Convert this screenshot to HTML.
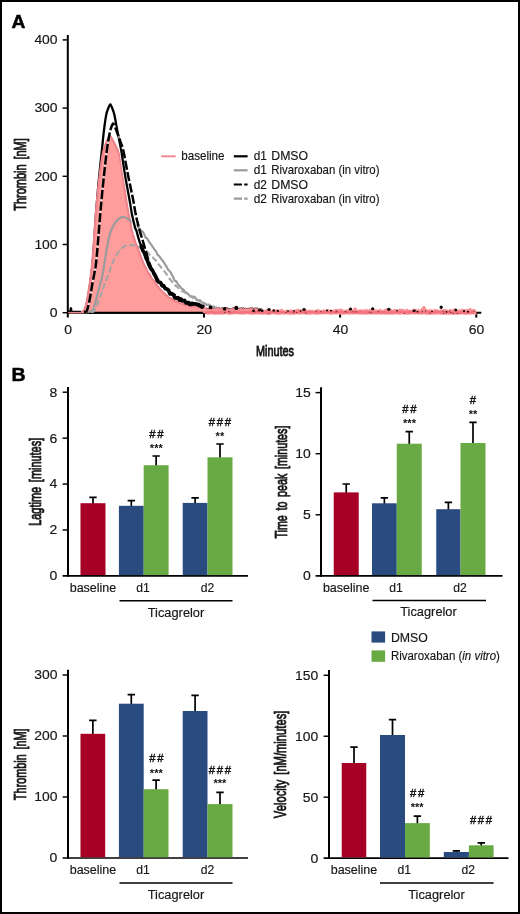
<!DOCTYPE html>
<html lang="en">
<head>
<meta charset="utf-8">
<title>Thrombin generation figure</title>
<style>
html,body{margin:0;padding:0;background:#fff;}
body{width:520px;height:914px;overflow:hidden;position:relative;font-family:"Liberation Sans",sans-serif;}
svg text{font-family:"Liberation Sans",sans-serif;}
</style>
</head>
<body>
<svg width="520" height="914" viewBox="0 0 520 914" style="display:block;position:absolute;left:0;top:0">
<rect x="0" y="0" width="520" height="914" fill="#fff"/>
<defs><filter id="soft" x="0" y="0" width="520" height="914" filterUnits="userSpaceOnUse"><feGaussianBlur stdDeviation="0.42"/></filter></defs>
<rect x="1" y="1" width="518" height="912" fill="none" stroke="#000" stroke-width="2"/>
<g filter="url(#soft)">
<g stroke="#000" stroke-width="2" fill="none" stroke-linecap="butt">
<path d="M67.80,35 V317.6"/>
<path d="M67.80,312.70 H481.3"/>
<path d="M203.96,312.70 V317.6"/>
<path d="M340.12,312.70 V317.6"/>
<path d="M476.28,312.70 V317.6"/>
</g>
<g stroke="#000" stroke-width="1.45" fill="none" stroke-linecap="butt">
<path d="M62.6,312.70 H67.80"/>
<path d="M62.6,244.50 H67.80"/>
<path d="M62.6,176.30 H67.80"/>
<path d="M62.6,108.10 H67.80"/>
<path d="M62.6,39.90 H67.80"/>
</g>
<path d="M68.00,311.50 L68.16,311.52 L68.38,311.58 L68.65,311.64 L68.94,311.70 L69.24,311.73 L69.52,311.72 L69.78,311.65 L70.00,311.50 L70.17,311.21 L70.32,310.78 L70.45,310.25 L70.56,309.70 L70.67,309.17 L70.77,308.73 L70.88,308.42 L71.00,308.30 L71.08,308.41 L71.09,308.71 L71.07,309.15 L71.06,309.67 L71.11,310.22 L71.26,310.74 L71.54,311.19 L72.00,311.50 L72.70,311.70 L73.63,311.83 L74.72,311.92 L75.89,311.96 L77.07,311.98 L78.20,311.99 L79.20,311.99 L80.00,312.00 L80.60,312.02 L81.08,312.05 L81.46,312.07 L81.77,312.08 L82.03,312.06 L82.27,312.01 L82.52,311.93 L82.80,311.80 L83.10,311.64 L83.38,311.47 L83.64,311.28 L83.90,311.04 L84.15,310.76 L84.40,310.42 L84.65,310.00 L84.90,309.50 L85.15,308.92 L85.41,308.28 L85.66,307.57 L85.91,306.79 L86.15,305.95 L86.40,305.04 L86.65,304.06 L86.90,303.00 L87.15,301.86 L87.40,300.64 L87.65,299.34 L87.90,297.97 L88.15,296.54 L88.40,295.07 L88.65,293.55 L88.90,292.00 L89.15,290.41 L89.40,288.76 L89.66,287.06 L89.91,285.31 L90.16,283.53 L90.41,281.71 L90.66,279.87 L90.90,278.00 L91.14,276.14 L91.37,274.28 L91.60,272.41 L91.83,270.50 L92.05,268.53 L92.27,266.47 L92.49,264.30 L92.70,262.00 L92.91,259.56 L93.11,256.99 L93.31,254.32 L93.51,251.56 L93.71,248.73 L93.90,245.85 L94.10,242.93 L94.30,240.00 L94.50,236.98 L94.70,233.84 L94.90,230.62 L95.10,227.38 L95.30,224.14 L95.50,220.97 L95.70,217.91 L95.90,215.00 L96.10,212.24 L96.30,209.58 L96.50,207.00 L96.71,204.50 L96.91,202.06 L97.11,199.67 L97.30,197.32 L97.50,195.00 L97.68,192.81 L97.85,190.80 L98.01,188.89 L98.17,187.00 L98.34,185.05 L98.53,182.95 L98.75,180.63 L99.00,178.00 L99.30,174.97 L99.65,171.59 L100.02,167.95 L100.41,164.19 L100.81,160.40 L101.20,156.70 L101.57,153.19 L101.90,150.00 L102.20,147.08 L102.48,144.32 L102.74,141.69 L102.99,139.19 L103.24,136.78 L103.49,134.46 L103.74,132.21 L104.00,130.00 L104.27,127.83 L104.55,125.71 L104.82,123.65 L105.10,121.67 L105.38,119.80 L105.65,118.06 L105.93,116.45 L106.20,115.00 L106.47,113.73 L106.75,112.62 L107.03,111.66 L107.31,110.83 L107.58,110.08 L107.84,109.41 L108.08,108.79 L108.30,108.20 L108.50,107.66 L108.67,107.22 L108.84,106.85 L108.98,106.54 L109.12,106.28 L109.25,106.05 L109.38,105.82 L109.50,105.60 L109.62,105.38 L109.72,105.17 L109.81,104.98 L109.90,104.82 L109.99,104.69 L110.07,104.59 L110.16,104.52 L110.25,104.50 L110.34,104.52 L110.43,104.59 L110.51,104.69" fill="none" stroke="#000" stroke-width="2.3" stroke-linejoin="round"/>
<path d="M206.00,308.16 L207.25,309.00 L208.50,308.92 L209.75,308.67 L211.00,308.25 L212.25,309.17 L213.50,309.19 L214.75,308.72 L216.00,308.71 L217.25,308.28 L218.50,307.91 L219.75,308.49 L221.00,308.84 L222.25,308.01 L223.50,309.17 L224.75,308.27 L226.00,308.27 L227.25,307.97 L228.50,309.50 L229.75,309.08 L231.00,309.30 L232.25,308.89 L233.50,307.95 L234.75,308.43 L236.00,308.70 L237.25,308.09 L238.50,309.42 L239.75,308.49 L241.00,308.15 L242.25,309.21 L243.50,308.10 L244.75,309.38 L246.00,308.63 L247.25,308.78 L248.50,308.45 L249.75,308.68 L251.00,308.20 L252.25,307.96 L253.50,309.29 L254.75,308.28 L256.00,309.15 L257.25,308.23 L258.50,309.45 L259.75,309.33 L261.00,309.11 L262.25,310.62" fill="none" stroke="#000" stroke-width="1.6" stroke-linejoin="round"/>
<path d="M68.00,312.30 L68.99,312.30 L70.38,312.31 L72.04,312.32 L73.84,312.33 L75.67,312.34 L77.39,312.34 L78.87,312.32 L80.00,312.30 L80.77,312.27 L81.30,312.25 L81.66,312.23 L81.88,312.19 L82.02,312.14 L82.13,312.06 L82.28,311.95 L82.50,311.80 L82.77,311.63 L83.04,311.45 L83.29,311.25 L83.53,311.03 L83.77,310.75 L84.01,310.41 L84.25,310.00 L84.50,309.50 L84.75,308.92 L85.00,308.28 L85.25,307.57 L85.50,306.79 L85.75,305.95 L86.00,305.04 L86.25,304.06 L86.50,303.00 L86.75,301.86 L87.00,300.64 L87.25,299.34 L87.50,297.97 L87.75,296.54 L88.00,295.07 L88.25,293.55 L88.50,292.00 L88.75,290.41 L89.00,288.76 L89.26,287.06 L89.51,285.31 L89.76,283.53 L90.01,281.71 L90.26,279.87 L90.50,278.00 L90.74,276.14 L90.97,274.28 L91.19,272.41 L91.42,270.50 L91.64,268.53 L91.86,266.47 L92.08,264.30 L92.30,262.00 L92.52,259.56 L92.73,256.99 L92.94,254.32 L93.16,251.56 L93.37,248.73 L93.58,245.85 L93.79,242.93 L94.00,240.00 L94.21,236.98 L94.42,233.84 L94.63,230.62 L94.84,227.38 L95.06,224.14 L95.27,220.97 L95.48,217.91 L95.70,215.00 L95.92,212.26 L96.13,209.65 L96.35,207.13 L96.57,204.69 L96.79,202.28 L97.02,199.88 L97.26,197.47 L97.50,195.00 L97.75,192.50 L98.01,190.00 L98.26,187.50 L98.53,185.00 L98.81,182.50 L99.09,180.00 L99.39,177.50 L99.70,175.00 L100.03,172.44 L100.38,169.78 L100.74,167.08 L101.11,164.41 L101.48,161.80 L101.86,159.33 L102.23,157.05 L102.60,155.00 L102.97,153.20 L103.33,151.59 L103.71,150.15 L104.07,148.84 L104.44,147.65 L104.80,146.55 L105.16,145.51 L105.50,144.50 L105.84,143.55 L106.18,142.70 L106.52,141.93 L106.84,141.24 L107.16,140.61 L107.46,140.03 L107.74,139.50 L108.00,139.00 L108.23,138.55 L108.45,138.16 L108.64,137.83 L108.82,137.55 L108.98,137.30 L109.13,137.09 L109.27,136.89 L109.40,136.70 L109.51,136.53 L109.60,136.38 L109.68,136.26 L109.74,136.16 L109.80,136.09 L109.86,136.04 L109.93,136.01 L110.00,136.00 L110.08,136.01 L110.15,136.04 L110.23,136.09 L110.31,136.16 L110.39,136.26 L110.48,136.38 L110.58,136.53 L110.70,136.70 L110.83,136.90 L110.95,137.11 L111.09,137.35 L111.24,137.61 L111.40,137.91 L111.58,138.23 L111.78,138.60 L112.00,139.00 L112.25,139.44 L112.53,139.92 L112.83,140.44 L113.14,140.99 L113.47,141.57 L113.81,142.18 L114.16,142.83 L114.50,143.50 L114.85,144.21 L115.23,144.95 L115.61,145.73 L116.00,146.53 L116.39,147.36 L116.77,148.22 L117.15,149.10 L117.50,150.00 L117.83,150.85 L118.15,151.64 L118.45,152.41 L118.75,153.22 L119.05,154.13 L119.35,155.19 L119.67,156.46 L120.00,158.00 L121.30,165.56 L122.60,174.25 L123.90,183.40 L125.20,192.93 L126.50,202.01 L127.80,209.82 L129.10,216.14 L130.40,222.84 L131.70,230.05 L133.00,234.74 L134.30,238.85 L135.60,243.19 L136.90,245.87 L138.20,249.58 L139.50,252.80 L140.80,256.76 L142.10,259.66 L143.40,263.16 L144.70,266.14 L146.00,268.33 L147.30,271.00 L148.60,273.24 L149.90,274.78 L151.20,277.61 L152.50,279.35 L153.80,280.85 L155.10,282.30 L156.40,284.93 L157.70,286.14 L159.00,287.97 L160.30,289.62 L161.60,290.82 L162.90,292.35 L164.20,293.03 L165.50,294.68 L166.80,295.45 L168.10,297.07 L169.40,298.02 L170.70,298.10 L172.00,298.98 L173.30,299.83 L174.60,301.33 L175.90,301.36 L177.20,302.13 L178.50,302.28 L179.80,302.98 L181.10,303.28 L182.40,303.66 L183.70,304.31 L185.00,304.69 L186.30,305.39 L187.60,305.45 L188.90,305.99 L190.20,306.16 L191.50,306.53 L192.80,306.39 L194.10,306.02 L195.40,306.98 L196.70,307.29 L198.00,307.42 L199.30,307.23 L200.60,307.56 L201.90,307.16 L203.20,307.98 L204.50,307.83 L205.80,307.64 L206.00,312.90 L68,312.90 Z" fill="#ff9c9c" stroke="none"/>
<path d="M80.77,312.27 L81.30,312.25 L81.66,312.23 L81.88,312.19 L82.02,312.14 L82.13,312.06 L82.28,311.95 L82.50,311.80 L82.77,311.63 L83.04,311.45 L83.29,311.25 L83.53,311.03 L83.77,310.75 L84.01,310.41 L84.25,310.00 L84.50,309.50 L84.75,308.92 L85.00,308.28 L85.25,307.57 L85.50,306.79 L85.75,305.95 L86.00,305.04 L86.25,304.06 L86.50,303.00 L86.75,301.86 L87.00,300.64 L87.25,299.34 L87.50,297.97 L87.75,296.54 L88.00,295.07 L88.25,293.55 L88.50,292.00 L88.75,290.41 L89.00,288.76 L89.26,287.06 L89.51,285.31 L89.76,283.53 L90.01,281.71 L90.26,279.87 L90.50,278.00 L90.74,276.14 L90.97,274.28 L91.19,272.41 L91.42,270.50 L91.64,268.53 L91.86,266.47 L92.08,264.30 L92.30,262.00 L92.52,259.56 L92.73,256.99 L92.94,254.32 L93.16,251.56 L93.37,248.73 L93.58,245.85 L93.79,242.93 L94.00,240.00 L94.21,236.98 L94.42,233.84 L94.63,230.62 L94.84,227.38 L95.06,224.14 L95.27,220.97 L95.48,217.91 L95.70,215.00 L95.92,212.26 L96.13,209.65 L96.35,207.13 L96.57,204.69 L96.79,202.28 L97.02,199.88 L97.26,197.47 L97.50,195.00 L97.75,192.50 L98.01,190.00 L98.26,187.50 L98.53,185.00 L98.81,182.50 L99.09,180.00 L99.39,177.50 L99.70,175.00 L100.03,172.44 L100.38,169.78 L100.74,167.08 L101.11,164.41 L101.48,161.80 L101.86,159.33 L102.23,157.05 L102.60,155.00 L102.97,153.20 L103.33,151.59 L103.71,150.15 L104.07,148.84 L104.44,147.65 L104.80,146.55 L105.16,145.51 L105.50,144.50 L105.84,143.55 L106.18,142.70 L106.52,141.93 L106.84,141.24 L107.16,140.61 L107.46,140.03 L107.74,139.50 L108.00,139.00 L108.23,138.55 L108.45,138.16 L108.64,137.83 L108.82,137.55 L108.98,137.30 L109.13,137.09 L109.27,136.89 L109.40,136.70 L109.51,136.53 L109.60,136.38 L109.68,136.26 L109.74,136.16 L109.80,136.09 L109.86,136.04 L109.93,136.01 L110.00,136.00 L110.08,136.01 L110.15,136.04 L110.23,136.09 L110.31,136.16 L110.39,136.26 L110.48,136.38 L110.58,136.53 L110.70,136.70 L110.83,136.90 L110.95,137.11 L111.09,137.35 L111.24,137.61 L111.40,137.91 L111.58,138.23 L111.78,138.60 L112.00,139.00 L112.25,139.44 L112.53,139.92 L112.83,140.44 L113.14,140.99 L113.47,141.57 L113.81,142.18 L114.16,142.83 L114.50,143.50 L114.85,144.21 L115.23,144.95 L115.61,145.73 L116.00,146.53 L116.39,147.36 L116.77,148.22 L117.15,149.10 L117.50,150.00 L117.83,150.85 L118.15,151.64 L118.45,152.41 L118.75,153.22 L119.05,154.13 L119.35,155.19 L119.67,156.46 L120.00,158.00 L121.30,165.56 L122.60,174.25 L123.90,183.40 L125.20,192.93 L126.50,202.01 L127.80,209.82 L129.10,216.14 L130.40,222.84 L131.70,230.05 L133.00,234.74 L134.30,238.85 L135.60,243.19 L136.90,245.87 L138.20,249.58 L139.50,252.80 L140.80,256.76 L142.10,259.66 L143.40,263.16 L144.70,266.14 L146.00,268.33 L147.30,271.00 L148.60,273.24 L149.90,274.78 L151.20,277.61 L152.50,279.35 L153.80,280.85 L155.10,282.30 L156.40,284.93 L157.70,286.14 L159.00,287.97 L160.30,289.62 L161.60,290.82 L162.90,292.35 L164.20,293.03 L165.50,294.68 L166.80,295.45 L168.10,297.07 L169.40,298.02 L170.70,298.10 L172.00,298.98 L173.30,299.83 L174.60,301.33 L175.90,301.36 L177.20,302.13 L178.50,302.28 L179.80,302.98 L181.10,303.28 L182.40,303.66 L183.70,304.31 L185.00,304.69 L186.30,305.39 L187.60,305.45 L188.90,305.99 L190.20,306.16 L191.50,306.53 L192.80,306.39 L194.10,306.02 L195.40,306.98 L196.70,307.29 L198.00,307.42 L199.30,307.23 L200.60,307.56 L201.90,307.16 L203.20,307.98 L204.50,307.83 L205.80,307.64" fill="none" stroke="#ee838b" stroke-width="2.2" stroke-linejoin="round"/>
<path d="M69.5,312.6 H81" fill="none" stroke="#ee838b" stroke-width="1.5" opacity="0.85"/>
<path d="M87.5,312.70 H203" stroke="#000" stroke-width="1.9" fill="none"/>
<path d="M88.00,312.00 L88.32,311.92 L88.74,311.85 L89.25,311.77 L89.81,311.66 L90.40,311.49 L90.98,311.26 L91.52,310.94 L92.00,310.50 L92.42,309.96 L92.82,309.36 L93.20,308.67 L93.56,307.91 L93.92,307.06 L94.27,306.13 L94.63,305.11 L95.00,304.00 L95.37,302.77 L95.74,301.41 L96.10,299.95 L96.46,298.41 L96.83,296.81 L97.21,295.20 L97.60,293.59 L98.00,292.00 L98.43,290.41 L98.89,288.77 L99.37,287.11 L99.86,285.44 L100.33,283.77 L100.79,282.13 L101.22,280.54 L101.60,279.00 L101.93,277.58 L102.21,276.27 L102.46,275.04 L102.69,273.81 L102.92,272.55 L103.15,271.20 L103.41,269.70 L103.70,268.00 L104.02,266.06 L104.37,263.90 L104.73,261.59 L105.11,259.19 L105.48,256.76 L105.86,254.38 L106.24,252.11 L106.60,250.00 L106.95,248.02 L107.31,246.08 L107.66,244.19 L108.01,242.38 L108.35,240.63 L108.70,238.98 L109.05,237.44 L109.40,236.00 L109.75,234.69 L110.09,233.51 L110.44,232.44 L110.78,231.46 L111.13,230.54 L111.48,229.67 L111.84,228.83 L112.20,228.00 L112.57,227.20 L112.94,226.45 L113.31,225.76 L113.69,225.10 L114.08,224.47 L114.48,223.87 L114.88,223.28 L115.30,222.70 L115.73,222.12 L116.18,221.55 L116.64,221.00 L117.11,220.47 L117.58,219.97 L118.05,219.51 L118.53,219.08 L119.00,218.70 L119.47,218.36 L119.93,218.04 L120.40,217.76 L120.87,217.52 L121.34,217.32 L121.82,217.16 L122.31,217.05 L122.80,217.00 L123.30,217.00 L123.80,217.06 L124.31,217.16 L124.82,217.31 L125.35,217.50 L125.88,217.74 L126.43,218.00 L127.00,218.30 L127.56,218.61 L128.10,218.94 L128.64,219.30 L129.20,219.70 L129.80,220.16 L130.45,220.68 L132.15,222.13 L133.85,223.59 L135.55,224.97 L137.25,227.00 L138.95,227.82 L140.65,230.45 L142.35,231.34 L144.05,233.93 L145.75,237.82 L147.45,238.72 L149.15,242.06 L150.85,244.13 L152.55,246.57 L154.25,249.17 L155.95,251.12 L157.65,255.03 L159.35,256.11 L161.05,258.80 L162.75,260.67 L164.45,263.47 L166.15,266.03 L167.85,269.37 L169.55,270.98 L171.25,273.42 L172.95,276.68 L174.65,280.85 L176.35,281.34 L178.05,284.57 L179.75,286.04 L181.45,288.42 L183.15,289.43 L184.85,291.65 L186.55,292.65 L188.25,294.21 L189.95,295.85 L191.65,296.30 L193.35,296.49 L195.05,297.35 L196.75,300.08 L198.45,300.07 L200.15,300.35 L201.85,302.69 L203.55,302.77 L205.25,303.87 L206.95,304.97 L208.65,304.55 L210.35,305.44 L212.05,307.18 L213.75,306.31 L215.45,308.13 L217.15,307.33" fill="none" stroke="#9b9b9b" stroke-width="2.2" stroke-linejoin="round"/>
<path d="M91.00,312.00 L91.29,311.95 L91.66,311.94 L92.11,311.94 L92.61,311.91 L93.14,311.79 L93.69,311.54 L94.23,311.13 L94.75,310.50 L95.25,309.64 L95.76,308.59 L96.27,307.38 L96.80,306.03 L97.33,304.59 L97.87,303.08 L98.43,301.54 L99.00,300.00 L99.60,298.40 L100.22,296.68 L100.86,294.87 L101.51,293.03 L102.16,291.18 L102.80,289.37 L103.41,287.63 L104.00,286.00 L104.55,284.50 L105.07,283.09 L105.57,281.74 L106.06,280.44 L106.54,279.14 L107.04,277.82 L107.56,276.45 L108.10,275.00 L108.68,273.44 L109.29,271.77 L109.92,270.05 L110.56,268.31 L111.19,266.60 L111.82,264.95 L112.43,263.40 L113.00,262.00 L113.54,260.74 L114.06,259.58 L114.57,258.50 L115.06,257.50 L115.54,256.56 L116.02,255.67 L116.51,254.82 L117.00,254.00 L117.50,253.22 L118.00,252.49 L118.50,251.82 L119.00,251.19 L119.50,250.60 L120.00,250.04 L120.50,249.51 L121.00,249.00 L121.50,248.52 L122.01,248.06 L122.51,247.64 L123.02,247.25 L123.52,246.89 L124.02,246.56 L124.51,246.27 L125.00,246.00 L125.47,245.77 L125.92,245.57 L126.36,245.41 L126.80,245.28 L127.24,245.18 L127.71,245.10 L128.21,245.04 L128.75,245.00 L129.34,244.98 L129.96,244.99 L130.62,245.02 L131.30,245.08 L131.98,245.15 L132.67,245.25 L133.35,245.37 L134.00,245.50 L134.63,245.65 L135.24,245.83 L135.85,246.02 L136.45,246.23 L137.95,246.84 L139.45,247.51 L140.95,248.21 L142.45,248.93 L143.95,249.61 L145.45,251.12 L146.95,251.44 L148.45,253.19 L149.95,255.00 L151.45,255.44 L152.95,257.57 L154.45,259.34 L155.95,260.39 L157.45,262.61 L158.95,264.90 L160.45,266.52 L161.95,268.80 L163.45,270.07 L164.95,272.12 L166.45,273.94 L167.95,276.38 L169.45,278.82 L170.95,280.30 L172.45,282.39 L173.95,283.70 L175.45,285.77 L176.95,286.49 L178.45,288.08 L179.95,289.77 L181.45,290.94 L182.95,291.57 L184.45,292.13 L185.95,293.29 L187.45,294.18 L188.95,295.22 L190.45,296.77 L191.95,296.91 L193.45,298.57 L194.95,299.36 L196.45,299.16 L197.95,300.32 L199.45,301.22 L200.95,301.43 L202.45,302.68 L203.95,304.01 L205.45,303.78 L206.95,305.04 L208.45,305.11 L209.95,306.27 L211.45,307.25" fill="none" stroke="#a3a3a3" stroke-width="2.0" stroke-dasharray="6.2 2.8" stroke-linejoin="round"/>
<path d="M206.00,307.86 L207.25,308.70 L208.50,308.62 L209.75,308.37 L211.00,307.95 L212.25,308.87 L213.50,308.89 L214.75,308.42 L216.00,308.41 L217.25,307.98 L218.50,307.61 L219.75,308.19 L221.00,308.54 L222.25,307.71 L223.50,308.87 L224.75,307.97 L226.00,307.97 L227.25,307.67 L228.50,309.20 L229.75,308.78 L231.00,309.00 L232.25,308.59 L233.50,307.65 L234.75,308.13 L236.00,308.40 L237.25,307.79 L238.50,309.12 L239.75,308.19 L241.00,307.85 L242.25,308.91 L243.50,307.80 L244.75,309.08 L246.00,308.33 L247.25,308.48 L248.50,308.15 L249.75,308.38 L251.00,307.90 L252.25,307.66 L253.50,308.99 L254.75,307.98 L256.00,308.85 L257.25,307.93 L258.50,309.15 L259.75,309.03 L261.00,308.81 L262.25,310.32 L263.50,310.03 L264.75,310.27 L266.00,309.30 L267.25,309.86 L268.50,310.42 L269.75,309.42 L271.00,310.58 L272.25,310.52 L273.50,309.76 L274.75,309.68 L276.00,309.82 L277.25,309.72 L278.50,310.69 L279.75,309.72 L281.00,309.14 L282.25,309.25 L283.50,310.25 L284.75,310.69 L286.00,309.89 L287.25,309.89 L288.50,309.98 L289.75,310.30 L291.00,309.46 L292.25,310.07 L293.50,309.99 L294.75,310.10 L296.00,309.39 L297.25,309.37 L298.50,308.95 L299.75,309.38 L301.00,309.65 L302.25,310.06 L303.50,309.59 L304.75,309.27 L306.00,309.21 L307.25,310.40 L308.50,310.34 L309.75,309.70 L311.00,310.19 L312.25,310.18 L313.50,310.54 L314.75,310.63 L316.00,309.75 L317.25,309.58 L318.50,309.15 L319.75,310.04 L321.00,310.51 L322.25,309.89 L323.50,309.70 L324.75,309.50 L326.00,310.50 L327.25,309.36 L328.50,309.21 L329.75,310.39 L331.00,310.34 L332.25,309.87 L333.50,310.44 L334.75,309.18 L336.00,309.11 L337.25,309.16 L338.50,309.37 L339.75,308.97 L341.00,308.81 L342.25,309.24 L343.50,310.14 L344.75,310.27 L346.00,309.89 L347.25,309.47 L348.50,309.10 L349.75,310.23 L351.00,309.54 L352.25,309.87 L353.50,308.75 L354.75,307.56 L356.00,307.90 L357.25,309.97 L358.50,310.11 L359.75,309.66 L361.00,309.38 L362.25,309.63 L363.50,310.06 L364.75,309.19 L366.00,309.55 L367.25,309.14 L368.50,309.93 L369.75,308.72 L371.00,309.80 L372.25,310.23 L373.50,308.74 L374.75,309.65 L376.00,309.73 L377.25,310.06 L378.50,309.63 L379.75,309.11 L381.00,309.35 L382.25,310.23 L383.50,310.15 L384.75,308.91 L386.00,308.85 L387.25,308.85 L388.50,308.74 L389.75,309.41 L391.00,308.93 L392.25,310.09 L393.50,309.75 L394.75,308.90 L396.00,309.56 L397.25,309.22 L398.50,309.49 L399.75,309.05 L401.00,308.97 L402.25,308.99 L403.50,309.30 L404.75,309.84 L406.00,309.58 L407.25,308.77 L408.50,309.84 L409.75,310.10 L411.00,309.94 L412.25,309.97 L413.50,308.71 L414.75,309.44 L416.00,308.80 L417.25,309.92 L418.50,308.98 L419.75,309.84 L421.00,309.10 L422.25,307.48 L423.50,305.90 L424.75,306.25 L426.00,309.32 L427.25,309.20 L428.50,310.14 L429.75,309.17 L431.00,309.50 L432.25,309.58 L433.50,310.22 L434.75,308.86 L436.00,309.66 L437.25,309.51 L438.50,309.88 L439.75,310.25 L441.00,309.20 L442.25,309.82 L443.50,309.54 L444.75,309.60 L446.00,308.80 L447.25,310.00 L448.50,310.26 L449.75,309.27 L451.00,309.21 L452.25,310.29 L453.50,308.87 L454.75,308.82 L456.00,308.82 L457.25,310.00 L458.50,309.92 L459.75,309.42 L461.00,309.69 L462.25,308.73 L463.50,309.73 L464.75,309.41 L466.00,309.53 L467.25,309.32 L468.50,309.34 L469.75,308.07 L471.00,308.78 L472.25,309.39 L473.50,309.10 L474.75,309.83 L476.00,310.01 L476.30,314.46 L474.30,314.27 L472.30,314.12 L470.30,314.22 L468.30,314.29 L466.30,314.39 L464.30,314.62 L462.30,314.01 L460.30,314.29 L458.30,314.29 L456.30,314.45 L454.30,314.57 L452.30,314.50 L450.30,314.39 L448.30,314.48 L446.30,314.42 L444.30,314.55 L442.30,314.44 L440.30,314.43 L438.30,314.12 L436.30,314.59 L434.30,314.22 L432.30,314.38 L430.30,314.53 L428.30,314.62 L426.30,314.64 L424.30,313.95 L422.30,314.17 L420.30,314.17 L418.30,314.22 L416.30,314.05 L414.30,314.34 L412.30,314.01 L410.30,314.16 L408.30,314.61 L406.30,314.47 L404.30,314.27 L402.30,314.03 L400.30,314.62 L398.30,314.44 L396.30,314.09 L394.30,314.18 L392.30,314.40 L390.30,314.43 L388.30,314.13 L386.30,314.62 L384.30,314.18 L382.30,314.13 L380.30,314.54 L378.30,314.06 L376.30,314.43 L374.30,314.09 L372.30,314.37 L370.30,314.14 L368.30,314.22 L366.30,314.61 L364.30,314.28 L362.30,314.26 L360.30,314.38 L358.30,314.15 L356.30,314.07 L354.30,314.22 L352.30,314.14 L350.30,314.08 L348.30,314.62 L346.30,313.97 L344.30,314.52 L342.30,314.60 L340.30,314.44 L338.30,313.96 L336.30,314.30 L334.30,313.98 L332.30,314.38 L330.30,314.44 L328.30,314.12 L326.30,313.96 L324.30,314.33 L322.30,314.02 L320.30,314.17 L318.30,314.27 L316.30,314.58 L314.30,314.21 L312.30,314.04 L310.30,314.50 L308.30,314.53 L306.30,314.32 L304.30,313.98 L302.30,314.08 L300.30,314.23 L298.30,314.34 L296.30,314.11 L294.30,314.51 L292.30,314.54 L290.30,314.60 L288.30,314.57 L286.30,313.96 L284.30,314.36 L282.30,314.01 L280.30,314.58 L278.30,314.47 L276.30,314.48 L274.30,314.08 L272.30,313.99 L270.30,314.52 L268.30,314.37 L266.30,314.38 L264.30,314.28 L262.30,314.51 L260.30,314.19 L258.30,314.14 L256.30,314.20 L254.30,314.16 L252.30,314.39 L250.30,314.57 L248.30,314.00 L246.30,314.00 L244.30,314.31 L242.30,314.42 L240.30,314.08 L238.30,314.14 L236.30,313.99 L234.30,313.98 L232.30,314.30 L230.30,314.43 L228.30,314.41 L226.30,314.06 L224.30,314.02 L222.30,314.60 L220.30,314.33 L218.30,314.24 L216.30,314.43 L214.30,314.46 L212.30,314.32 L210.30,314.00 L208.30,314.53 L206.30,314.10 Z" fill="#f98d92" stroke="#f98d92" stroke-width="0.5" stroke-linejoin="round"/>
<path d="M204.00,312.35 L206.50,312.39 L209.00,312.52 L211.50,312.14 L214.00,312.41 L216.50,312.57 L219.00,312.59 L221.50,312.08 L224.00,312.41 L226.50,312.38 L229.00,312.30 L231.50,312.63 L234.00,312.32 L236.50,312.26 L239.00,312.61 L241.50,312.39 L244.00,312.16 L246.50,312.17 L249.00,312.30 L251.50,311.99 L254.00,312.38 L256.50,312.47 L259.00,312.25 L261.50,312.54 L264.00,312.60 L266.50,312.34 L269.00,312.43 L271.50,312.03 L274.00,311.99 L276.50,312.64 L279.00,312.15 L281.50,312.10 L284.00,312.58 L286.50,312.47 L289.00,312.04 L291.50,312.18 L294.00,312.12 L296.50,312.14 L299.00,311.95 L301.50,312.32 L304.00,312.16 L306.50,312.23 L309.00,312.08 L311.50,312.03 L314.00,311.97 L316.50,312.56 L319.00,312.47 L321.50,312.34 L324.00,312.04 L326.50,312.05 L329.00,312.03 L331.50,312.17 L334.00,311.99 L336.50,312.14 L339.00,312.09 L341.50,312.08 L344.00,312.41 L346.50,312.27 L349.00,312.28 L351.50,312.20 L354.00,312.33 L356.50,312.50 L359.00,312.17 L361.50,312.00 L364.00,312.29 L366.50,312.22 L369.00,312.50 L371.50,312.03 L374.00,312.56 L376.50,311.96 L379.00,312.33 L381.50,312.26 L384.00,312.17 L386.50,312.57 L389.00,312.44 L391.50,312.06 L394.00,312.30 L396.50,312.38 L399.00,311.97 L401.50,312.01 L404.00,312.37 L406.50,312.46 L409.00,312.27 L411.50,312.25 L414.00,312.30 L416.50,312.13 L419.00,312.56 L421.50,312.62 L424.00,312.29 L426.50,311.96 L429.00,312.23 L431.50,312.51 L434.00,312.18 L436.50,312.02 L439.00,312.08 L441.50,312.45 L444.00,312.39 L446.50,312.15 L449.00,312.39 L451.50,312.48 L454.00,312.63 L456.50,312.53 L459.00,312.25 L461.50,312.52 L464.00,312.60 L466.50,312.56 L469.00,312.48 L471.50,312.36 L474.00,312.31" fill="none" stroke="#ef6f7a" stroke-width="2.3" stroke-linejoin="round" opacity="0.9"/>
<ellipse cx="210.5" cy="307.4" rx="1.9" ry="1.9" fill="#0a0000"/>
<ellipse cx="224.6" cy="308.8" rx="1.9" ry="1.9" fill="#0a0000"/>
<ellipse cx="236.3" cy="307.9" rx="2.0" ry="2.2" fill="#0a0000"/>
<ellipse cx="253.5" cy="310.8" rx="1.4" ry="1.3" fill="#0a0000"/>
<ellipse cx="259.6" cy="310.1" rx="1.6" ry="1.4" fill="#0a0000"/>
<ellipse cx="262.2" cy="310.8" rx="1.3" ry="1.3" fill="#0a0000"/>
<ellipse cx="269.0" cy="309.5" rx="1.7" ry="1.5" fill="#0a0000"/>
<ellipse cx="273.7" cy="310.4" rx="1.3" ry="1.2" fill="#0a0000"/>
<ellipse cx="277.8" cy="310.9" rx="1.2" ry="1.1" fill="#0a0000"/>
<ellipse cx="288.0" cy="311.1" rx="0.9" ry="0.8" fill="#0a0000"/>
<ellipse cx="294.0" cy="310.9" rx="0.9" ry="0.8" fill="#0a0000"/>
<ellipse cx="300.6" cy="311.1" rx="0.9" ry="0.8" fill="#0a0000"/>
<ellipse cx="304.0" cy="309.6" rx="1.7" ry="1.5" fill="#0a0000"/>
<ellipse cx="327.0" cy="310.4" rx="1.1" ry="0.9" fill="#0a0000"/>
<ellipse cx="331.0" cy="310.6" rx="1.1" ry="0.9" fill="#0a0000"/>
<ellipse cx="350.5" cy="309.1" rx="1.6" ry="1.5" fill="#0a0000"/>
<ellipse cx="372.7" cy="308.8" rx="1.7" ry="1.5" fill="#0a0000"/>
<ellipse cx="388.8" cy="309.2" rx="1.7" ry="1.5" fill="#0a0000"/>
<ellipse cx="397.0" cy="310.8" rx="0.9" ry="0.8" fill="#0a0000"/>
<ellipse cx="414.2" cy="310.8" rx="1.6" ry="1.3" fill="#0a0000"/>
<ellipse cx="441.2" cy="307.2" rx="1.6" ry="1.7" fill="#0a0000"/>
<ellipse cx="455.8" cy="310.1" rx="1.5" ry="1.4" fill="#0a0000"/>
<ellipse cx="464.0" cy="311.0" rx="1.1" ry="0.9" fill="#0a0000"/>
<ellipse cx="468.0" cy="311.7" rx="1.1" ry="0.9" fill="#0a0000"/>
<ellipse cx="417.5" cy="311.8" rx="1.1" ry="0.8" fill="#0a0000"/>
<ellipse cx="432.0" cy="311.5" rx="0.9" ry="0.8" fill="#0a0000"/>
<ellipse cx="446.5" cy="311.9" rx="0.9" ry="0.8" fill="#0a0000"/>
<rect x="273.8" y="310.5" width="1.2" height="1.1" fill="#5a1418" opacity="0.75"/>
<rect x="315.8" y="310.7" width="1.2" height="1.1" fill="#5a1418" opacity="0.75"/>
<rect x="229.4" y="311.5" width="1.2" height="1.1" fill="#5a1418" opacity="0.75"/>
<rect x="452.5" y="312.8" width="1.2" height="1.1" fill="#5a1418" opacity="0.75"/>
<rect x="412.5" y="310.9" width="1.2" height="1.1" fill="#5a1418" opacity="0.75"/>
<rect x="352.6" y="311.1" width="1.2" height="1.1" fill="#5a1418" opacity="0.75"/>
<rect x="257.2" y="310.5" width="1.2" height="1.1" fill="#5a1418" opacity="0.75"/>
<rect x="268.2" y="313.2" width="1.2" height="1.1" fill="#5a1418" opacity="0.75"/>
<rect x="429.2" y="312.8" width="1.2" height="1.1" fill="#5a1418" opacity="0.75"/>
<rect x="421.7" y="310.8" width="1.2" height="1.1" fill="#5a1418" opacity="0.75"/>
<rect x="293.2" y="312.2" width="1.2" height="1.1" fill="#5a1418" opacity="0.75"/>
<rect x="403.8" y="312.9" width="1.2" height="1.1" fill="#5a1418" opacity="0.75"/>
<rect x="442.6" y="310.5" width="1.2" height="1.1" fill="#5a1418" opacity="0.75"/>
<rect x="370.7" y="312.3" width="1.2" height="1.1" fill="#5a1418" opacity="0.75"/>
<rect x="344.6" y="310.8" width="1.2" height="1.1" fill="#5a1418" opacity="0.75"/>
<rect x="336.1" y="310.5" width="1.2" height="1.1" fill="#5a1418" opacity="0.75"/>
<rect x="456.9" y="313.0" width="1.2" height="1.1" fill="#5a1418" opacity="0.75"/>
<rect x="355.5" y="311.2" width="1.2" height="1.1" fill="#5a1418" opacity="0.75"/>
<rect x="450.1" y="312.0" width="1.2" height="1.1" fill="#5a1418" opacity="0.75"/>
<rect x="443.2" y="312.9" width="1.2" height="1.1" fill="#5a1418" opacity="0.75"/>
<rect x="345.2" y="311.5" width="1.2" height="1.1" fill="#5a1418" opacity="0.75"/>
<rect x="368.9" y="311.6" width="1.2" height="1.1" fill="#5a1418" opacity="0.75"/>
<rect x="254.3" y="311.2" width="1.2" height="1.1" fill="#5a1418" opacity="0.75"/>
<rect x="424.9" y="310.3" width="1.2" height="1.1" fill="#5a1418" opacity="0.75"/>
<rect x="224.1" y="312.2" width="1.2" height="1.1" fill="#5a1418" opacity="0.75"/>
<rect x="285.5" y="311.9" width="1.2" height="1.1" fill="#5a1418" opacity="0.75"/>
<rect x="335.5" y="311.3" width="1.2" height="1.1" fill="#5a1418" opacity="0.75"/>
<rect x="473.3" y="310.8" width="1.2" height="1.1" fill="#5a1418" opacity="0.75"/>
<rect x="320.2" y="310.8" width="1.2" height="1.1" fill="#5a1418" opacity="0.75"/>
<rect x="377.8" y="311.1" width="1.2" height="1.1" fill="#5a1418" opacity="0.75"/>
<rect x="305.2" y="312.6" width="1.2" height="1.1" fill="#5a1418" opacity="0.75"/>
<rect x="296.0" y="312.0" width="1.2" height="1.1" fill="#5a1418" opacity="0.75"/>
<rect x="448.9" y="310.5" width="1.2" height="1.1" fill="#5a1418" opacity="0.75"/>
<rect x="228.1" y="310.9" width="1.2" height="1.1" fill="#5a1418" opacity="0.75"/>
<path d="M112.67,109.44 L112.93,110.13 L113.21,110.89 L113.50,111.74 L113.80,112.70 L114.10,113.78 L114.40,115.00 L114.69,116.35 L114.98,117.81 L115.27,119.37 L115.57,121.05 L115.88,122.85 L116.22,124.77 L116.59,126.82 L117.00,129.00 L117.46,131.35 L117.97,133.89 L118.51,136.58 L119.08,139.38 L119.66,142.25 L120.23,145.17 L120.78,148.10 L121.30,151.00 L121.79,153.90 L122.25,156.84 L123.85,167.67 L125.45,177.57 L127.05,186.38 L128.65,195.05 L130.25,204.17 L131.85,214.11 L133.45,221.01 L135.05,227.84 L136.65,231.33 L138.25,237.34 L139.85,242.82" fill="none" stroke="#fff" stroke-width="3.8" stroke-linejoin="round" opacity="0.9"/>
<path d="M110.25,104.50 L110.34,104.52 L110.43,104.59 L110.51,104.69 L110.60,104.82 L110.69,104.98 L110.78,105.17 L110.88,105.38 L111.00,105.60 L111.12,105.82 L111.24,106.05 L111.37,106.28 L111.51,106.54 L111.66,106.85 L111.82,107.22 L112.00,107.66 L112.20,108.20 L112.42,108.80 L112.67,109.44 L112.93,110.13 L113.21,110.89 L113.50,111.74 L113.80,112.70 L114.10,113.78 L114.40,115.00 L114.69,116.35 L114.98,117.81 L115.27,119.37 L115.57,121.05 L115.88,122.85 L116.22,124.77 L116.59,126.82 L117.00,129.00 L117.46,131.35 L117.97,133.89 L118.51,136.58 L119.08,139.38 L119.66,142.25 L120.23,145.17 L120.78,148.10 L121.30,151.00 L121.79,153.90 L122.25,156.84 L123.85,167.67 L125.45,177.57 L127.05,186.38 L128.65,195.05 L130.25,204.17 L131.85,214.11 L133.45,221.01 L135.05,227.84 L136.65,231.33 L138.25,237.34 L139.85,242.82 L141.45,245.92" fill="none" stroke="#000" stroke-width="2.3" stroke-linejoin="round"/>
<path d="M141.25,246.22 L142.85,250.72 L144.45,252.77 L146.05,257.90 L147.65,261.28 L149.25,265.54 L150.85,268.79 L152.45,270.30 L154.05,273.71 L155.65,276.52 L157.25,280.50 L158.85,282.18 L160.45,282.45 L162.05,285.81 L163.65,285.77 L165.25,288.70 L166.85,289.06 L168.45,290.28 L170.05,293.98 L171.65,293.55 L173.25,294.70 L174.85,297.70 L176.45,298.33 L178.05,297.67 L179.65,300.20 L181.25,299.85 L182.85,300.93 L184.45,300.38 L186.05,302.94 L187.65,302.87 L189.25,304.13 L190.85,304.43 L192.45,303.36 L194.05,303.99 L195.65,303.94 L197.25,304.36 L198.85,304.65 L200.45,305.75 L202.05,307.01" fill="none" stroke="#000" stroke-width="3.7" stroke-linejoin="round" stroke-linecap="round"/>
<path d="M84.00,312.00 L84.21,311.96 L84.48,311.94 L84.82,311.92 L85.18,311.88 L85.56,311.79 L85.94,311.62 L86.29,311.37 L86.60,311.00 L86.87,310.52 L87.12,309.95 L87.36,309.29 L87.59,308.56 L87.81,307.76 L88.03,306.90 L88.26,305.98 L88.50,305.00 L88.75,303.96 L88.99,302.83 L89.24,301.63 L89.49,300.38 L89.75,299.07 L90.00,297.73 L90.25,296.37 L90.50,295.00 L90.75,293.59 L91.00,292.12 L91.25,290.60 L91.49,289.06 L91.74,287.51 L91.99,285.98 L92.25,284.47 L92.50,283.00 L92.76,281.57 L93.03,280.16 L93.30,278.76 L93.58,277.38 L93.84,276.01 L94.11,274.66 L94.36,273.32 L94.60,272.00 L94.82,270.80 L95.02,269.76 L95.21,268.79 L95.40,267.81 L95.59,266.73 L95.78,265.46 L95.98,263.91 L96.20,262.00 L96.44,259.70 L96.69,257.08 L96.94,254.20 L97.21,251.12 L97.48,247.91 L97.75,244.61 L98.02,241.29 L98.30,238.00 L98.57,234.71 L98.85,231.33 L99.12,227.88 L99.40,224.38 L99.68,220.82 L99.98,217.23 L100.28,213.62 L100.60,210.00 L100.93,206.35 L101.27,202.64 L101.62,198.90 L101.98,195.12 L102.35,191.34 L102.73,187.55 L103.11,183.76 L103.50,180.00 L103.91,176.15 L104.33,172.17 L104.77,168.13 L105.22,164.12 L105.66,160.22 L106.09,156.52 L106.51,153.08 L106.90,150.00 L107.27,147.27 L107.62,144.80 L107.96,142.58 L108.29,140.56 L108.61,138.73 L108.92,137.04 L109.21,135.47 L109.50,134.00 L109.78,132.66 L110.04,131.51 L110.30,130.52 L110.54,129.66 L110.78,128.91 L111.00,128.23 L111.21,127.60 L111.40,127.00 L111.58,126.45 L111.74,126.00 L111.89,125.62 L112.03,125.31 L112.16,125.05 L112.28,124.82 L112.39,124.61 L112.50,124.40 L112.60,124.20 L112.68,124.04 L112.76,123.90 L112.83,123.79 L112.89,123.70 L112.95,123.65 L113.02,123.61 L113.10,123.60 L113.18,123.61 L113.26,123.65 L113.33,123.70 L113.41,123.79 L113.50,123.90 L113.59,124.04 L113.69,124.20 L113.80,124.40 L113.92,124.61 L114.03,124.83 L114.16,125.07 L114.29,125.34 L114.43,125.66 L114.60,126.03 L114.78,126.48 L115.00,127.00 L115.25,127.61 L115.52,128.30 L115.82,129.06 L116.14,129.88 L116.47,130.74 L116.81,131.64 L117.15,132.57 L117.50,133.50 L117.85,134.46 L118.22,135.47 L118.59,136.52 L118.98,137.59 L119.36,138.69 L119.75,139.79 L120.13,140.90 L120.50,142.00 L120.86,143.00 L121.19,143.86 L121.52,144.68 L121.85,145.53 L122.19,146.50 L122.56,147.68 L122.96,149.15 L123.40,151.00 L123.89,153.28 L124.42,155.92 L125.82,163.42 L127.22,170.96" fill="none" stroke="#fff" stroke-width="1.8" stroke-linejoin="round" opacity="0.6"/>
<path d="M84.00,312.00 L84.21,311.96 L84.48,311.94 L84.82,311.92 L85.18,311.88 L85.56,311.79 L85.94,311.62 L86.29,311.37 L86.60,311.00 L86.87,310.52 L87.12,309.95 L87.36,309.29 L87.59,308.56 L87.81,307.76 L88.03,306.90 L88.26,305.98 L88.50,305.00 L88.75,303.96 L88.99,302.83 L89.24,301.63 L89.49,300.38 L89.75,299.07 L90.00,297.73 L90.25,296.37 L90.50,295.00 L90.75,293.59 L91.00,292.12 L91.25,290.60 L91.49,289.06 L91.74,287.51 L91.99,285.98 L92.25,284.47 L92.50,283.00 L92.76,281.57 L93.03,280.16 L93.30,278.76 L93.58,277.38 L93.84,276.01 L94.11,274.66 L94.36,273.32 L94.60,272.00 L94.82,270.80 L95.02,269.76 L95.21,268.79 L95.40,267.81 L95.59,266.73 L95.78,265.46 L95.98,263.91 L96.20,262.00 L96.44,259.70 L96.69,257.08 L96.94,254.20 L97.21,251.12 L97.48,247.91 L97.75,244.61 L98.02,241.29 L98.30,238.00 L98.57,234.71 L98.85,231.33 L99.12,227.88 L99.40,224.38 L99.68,220.82 L99.98,217.23 L100.28,213.62 L100.60,210.00 L100.93,206.35 L101.27,202.64 L101.62,198.90 L101.98,195.12 L102.35,191.34 L102.73,187.55 L103.11,183.76 L103.50,180.00 L103.91,176.15 L104.33,172.17 L104.77,168.13 L105.22,164.12 L105.66,160.22 L106.09,156.52 L106.51,153.08 L106.90,150.00 L107.27,147.27 L107.62,144.80 L107.96,142.58 L108.29,140.56 L108.61,138.73 L108.92,137.04 L109.21,135.47 L109.50,134.00 L109.78,132.66 L110.04,131.51 L110.30,130.52 L110.54,129.66 L110.78,128.91 L111.00,128.23 L111.21,127.60 L111.40,127.00 L111.58,126.45 L111.74,126.00 L111.89,125.62 L112.03,125.31 L112.16,125.05 L112.28,124.82 L112.39,124.61 L112.50,124.40 L112.60,124.20 L112.68,124.04 L112.76,123.90 L112.83,123.79 L112.89,123.70 L112.95,123.65 L113.02,123.61 L113.10,123.60 L113.18,123.61 L113.26,123.65 L113.33,123.70 L113.41,123.79 L113.50,123.90 L113.59,124.04 L113.69,124.20 L113.80,124.40 L113.92,124.61 L114.03,124.83 L114.16,125.07 L114.29,125.34 L114.43,125.66 L114.60,126.03 L114.78,126.48 L115.00,127.00 L115.25,127.61 L115.52,128.30 L115.82,129.06 L116.14,129.88 L116.47,130.74 L116.81,131.64 L117.15,132.57 L117.50,133.50 L117.85,134.46 L118.22,135.47 L118.59,136.52 L118.98,137.59 L119.36,138.69 L119.75,139.79 L120.13,140.90 L120.50,142.00 L120.86,143.00 L121.19,143.86 L121.52,144.68 L121.85,145.53 L122.19,146.50 L122.56,147.68 L122.96,149.15 L123.40,151.00 L123.89,153.28 L124.42,155.92 L125.82,163.42 L127.22,170.96 L128.62,178.03 L130.02,184.72 L131.42,191.32 L132.82,198.08 L134.22,205.77 L135.62,214.09 L137.02,220.27 L138.42,225.81 L139.82,231.06 L141.22,235.75 L142.62,240.25 L144.02,245.19 L145.42,250.06 L146.82,254.44 L148.22,260.04 L149.62,263.55 L151.02,267.37 L152.42,269.62 L153.82,273.03 L155.22,274.60 L156.62,277.76 L158.02,279.63 L159.42,280.88 L160.82,282.74 L162.22,284.51 L163.62,285.09 L165.02,287.20 L166.42,289.11 L167.82,289.54 L169.22,291.86 L170.62,292.91 L172.02,294.36 L173.42,294.49 L174.82,295.01 L176.22,297.15 L177.62,297.97 L179.02,298.08 L180.42,298.17 L181.82,299.03 L183.22,300.46 L184.62,300.46 L186.02,302.22 L187.42,302.09 L188.82,301.88 L190.22,303.15 L191.62,303.04 L193.02,304.48 L194.42,304.84 L195.82,304.53 L197.22,305.18 L198.62,305.70 L200.02,306.31 L201.42,307.03 L202.82,305.73 L204.22,306.74 L205.62,307.57" fill="none" stroke="#000" stroke-width="2.5" stroke-dasharray="9.2 2.4" stroke-linejoin="round"/>
<g font-family="'Liberation Sans', sans-serif">
<text x="11.50" y="27.80" font-size="18.40" font-weight="bold" textLength="13.9" lengthAdjust="spacingAndGlyphs" fill="#000" stroke="#000" stroke-width="0.5">A</text>
<text x="11.40" y="380.70" font-size="18.60" font-weight="bold" textLength="14.1" lengthAdjust="spacingAndGlyphs" fill="#000" stroke="#000" stroke-width="0.5">B</text>
<text x="57.60" y="317.00" font-size="12.60" text-anchor="end" textLength="7.8" lengthAdjust="spacingAndGlyphs" fill="#151515" stroke="#151515" stroke-width="0.16" stroke-linejoin="round">0</text>
<text x="57.60" y="248.80" font-size="12.60" text-anchor="end" textLength="23.2" lengthAdjust="spacingAndGlyphs" fill="#151515" stroke="#151515" stroke-width="0.16" stroke-linejoin="round">100</text>
<text x="57.60" y="180.60" font-size="12.60" text-anchor="end" textLength="23.2" lengthAdjust="spacingAndGlyphs" fill="#151515" stroke="#151515" stroke-width="0.16" stroke-linejoin="round">200</text>
<text x="57.60" y="112.40" font-size="12.60" text-anchor="end" textLength="23.2" lengthAdjust="spacingAndGlyphs" fill="#151515" stroke="#151515" stroke-width="0.16" stroke-linejoin="round">300</text>
<text x="57.60" y="44.20" font-size="12.60" text-anchor="end" textLength="23.2" lengthAdjust="spacingAndGlyphs" fill="#151515" stroke="#151515" stroke-width="0.16" stroke-linejoin="round">400</text>
<text x="68.10" y="334.30" font-size="12.60" text-anchor="middle" textLength="7.8" lengthAdjust="spacingAndGlyphs" fill="#151515" stroke="#151515" stroke-width="0.16" stroke-linejoin="round">0</text>
<text x="204.26" y="334.30" font-size="12.60" text-anchor="middle" textLength="15.5" lengthAdjust="spacingAndGlyphs" fill="#151515" stroke="#151515" stroke-width="0.16" stroke-linejoin="round">20</text>
<text x="340.42" y="334.30" font-size="12.60" text-anchor="middle" textLength="15.5" lengthAdjust="spacingAndGlyphs" fill="#151515" stroke="#151515" stroke-width="0.16" stroke-linejoin="round">40</text>
<text x="476.58" y="334.30" font-size="12.60" text-anchor="middle" textLength="15.5" lengthAdjust="spacingAndGlyphs" fill="#151515" stroke="#151515" stroke-width="0.16" stroke-linejoin="round">60</text>
<text transform="translate(25.80,174.50) rotate(-90)" x="-36.20" y="0" font-size="16.00" word-spacing="2.5" textLength="72.40" lengthAdjust="spacingAndGlyphs" stroke="#151515" stroke-width="0.85" stroke-linejoin="round" fill="#151515">Thrombin [nM]</text>
<text transform="translate(275.00,356.30)" x="-19.00" y="0" font-size="15.50" word-spacing="2.5" textLength="38.00" lengthAdjust="spacingAndGlyphs" stroke="#151515" stroke-width="0.85" stroke-linejoin="round" fill="#151515">Minutes</text>
<path d="M161.2,156.3 H175.6" stroke="#f08a92" stroke-width="2" fill="none"/>
<text x="181.20" y="160.30" font-size="12.20" textLength="43.4" lengthAdjust="spacingAndGlyphs" fill="#151515" stroke="#151515" stroke-width="0.16" stroke-linejoin="round">baseline</text>
<path d="M233.8,156.3 H247.6" stroke="#000" stroke-width="2.2" fill="none"/>
<path d="M233.8,170.3 H247.6" stroke="#9b9b9b" stroke-width="2.2" fill="none"/>
<path d="M233.8,184.5 H247.6" stroke="#000" stroke-width="2.2" fill="none" stroke-dasharray="8.2 2.2 3.4 10"/>
<path d="M233.8,198.7 H247.6" stroke="#9b9b9b" stroke-width="2.2" fill="none" stroke-dasharray="8.2 2.2 3.4 10"/>
<text x="253.70" y="160.40" font-size="12.20" textLength="13.2" lengthAdjust="spacingAndGlyphs" fill="#151515" stroke="#151515" stroke-width="0.16" stroke-linejoin="round">d1</text>
<text x="271.30" y="160.40" font-size="12.20" textLength="36.8" lengthAdjust="spacingAndGlyphs" fill="#151515" stroke="#151515" stroke-width="0.16" stroke-linejoin="round">DMSO</text>
<text x="253.70" y="174.40" font-size="12.20" textLength="13.2" lengthAdjust="spacingAndGlyphs" fill="#151515" stroke="#151515" stroke-width="0.16" stroke-linejoin="round">d1</text>
<text x="271.30" y="174.40" font-size="12.20" textLength="108.2" lengthAdjust="spacingAndGlyphs" fill="#151515" stroke="#151515" stroke-width="0.16" stroke-linejoin="round">Rivaroxaban (in vitro)</text>
<text x="253.70" y="188.60" font-size="12.20" textLength="13.2" lengthAdjust="spacingAndGlyphs" fill="#151515" stroke="#151515" stroke-width="0.16" stroke-linejoin="round">d2</text>
<text x="271.30" y="188.60" font-size="12.20" textLength="36.8" lengthAdjust="spacingAndGlyphs" fill="#151515" stroke="#151515" stroke-width="0.16" stroke-linejoin="round">DMSO</text>
<text x="253.70" y="202.80" font-size="12.20" textLength="13.2" lengthAdjust="spacingAndGlyphs" fill="#151515" stroke="#151515" stroke-width="0.16" stroke-linejoin="round">d2</text>
<text x="271.30" y="202.80" font-size="12.20" textLength="108.2" lengthAdjust="spacingAndGlyphs" fill="#151515" stroke="#151515" stroke-width="0.16" stroke-linejoin="round">Rivaroxaban (in vitro)</text>
<path d="M68.00,386.90 V576.75" stroke="#000" stroke-width="2" fill="none"/>
<path d="M62.60,575.90 H248.00" stroke="#000" stroke-width="1.7" fill="none"/>
<g stroke="#000" stroke-width="1.45" fill="none">
<path d="M62.60,529.98 H68.00"/>
<path d="M62.60,484.05 H68.00"/>
<path d="M62.60,438.12 H68.00"/>
<path d="M62.60,392.20 H68.00"/>
</g>
<text x="57.40" y="580.30" font-size="12.60" text-anchor="end" textLength="7.8" lengthAdjust="spacingAndGlyphs" fill="#151515" stroke="#151515" stroke-width="0.16" stroke-linejoin="round">0</text>
<text x="57.40" y="534.38" font-size="12.60" text-anchor="end" textLength="7.8" lengthAdjust="spacingAndGlyphs" fill="#151515" stroke="#151515" stroke-width="0.16" stroke-linejoin="round">2</text>
<text x="57.40" y="488.45" font-size="12.60" text-anchor="end" textLength="7.8" lengthAdjust="spacingAndGlyphs" fill="#151515" stroke="#151515" stroke-width="0.16" stroke-linejoin="round">4</text>
<text x="57.40" y="442.52" font-size="12.60" text-anchor="end" textLength="7.8" lengthAdjust="spacingAndGlyphs" fill="#151515" stroke="#151515" stroke-width="0.16" stroke-linejoin="round">6</text>
<text x="57.40" y="396.60" font-size="12.60" text-anchor="end" textLength="7.8" lengthAdjust="spacingAndGlyphs" fill="#151515" stroke="#151515" stroke-width="0.16" stroke-linejoin="round">8</text>
<path d="M93.00,504.20 V497.00 M89.30,497.40 H96.70" stroke="#000" stroke-width="1.7" fill="none"/>
<rect x="80.50" y="503.20" width="25.00" height="71.90" fill="#a60627"/>
<path d="M131.30,506.80 V500.30 M127.60,500.70 H135.00" stroke="#000" stroke-width="1.7" fill="none"/>
<rect x="118.90" y="505.80" width="24.80" height="69.30" fill="#2a4b80"/>
<path d="M156.15,466.20 V455.60 M152.45,456.00 H159.85" stroke="#000" stroke-width="1.7" fill="none"/>
<rect x="143.70" y="465.20" width="24.90" height="109.90" fill="#69aa45"/>
<path d="M195.10,503.90 V497.50 M191.40,497.90 H198.80" stroke="#000" stroke-width="1.7" fill="none"/>
<rect x="182.70" y="502.90" width="24.80" height="72.20" fill="#2a4b80"/>
<path d="M220.00,458.30 V443.60 M216.30,444.00 H223.70" stroke="#000" stroke-width="1.7" fill="none"/>
<rect x="207.50" y="457.30" width="25.00" height="117.80" fill="#69aa45"/>
<text x="156.30" y="437.80" font-size="11.3" text-anchor="middle" textLength="14.26" lengthAdjust="spacing" fill="#111" stroke="#111" stroke-width="0.4">##</text>
<text x="156.30" y="452.20" font-size="11.00" text-anchor="middle" font-weight="bold" textLength="12.9" lengthAdjust="spacingAndGlyphs" fill="#111">***</text>
<text x="219.90" y="425.50" font-size="11.3" text-anchor="middle" textLength="22.24" lengthAdjust="spacing" fill="#111" stroke="#111" stroke-width="0.4">###</text>
<text x="219.90" y="440.10" font-size="11.00" text-anchor="middle" font-weight="bold" textLength="8.6" lengthAdjust="spacingAndGlyphs" fill="#111">**</text>
<text x="93.00" y="592.40" font-size="12.50" text-anchor="middle" textLength="46.6" lengthAdjust="spacingAndGlyphs" fill="#151515" stroke="#151515" stroke-width="0.16" stroke-linejoin="round">baseline</text>
<text x="142.90" y="592.40" font-size="12.50" text-anchor="middle" textLength="13.5" lengthAdjust="spacingAndGlyphs" fill="#151515" stroke="#151515" stroke-width="0.16" stroke-linejoin="round">d1</text>
<text x="207.50" y="592.40" font-size="12.50" text-anchor="middle" textLength="13.5" lengthAdjust="spacingAndGlyphs" fill="#151515" stroke="#151515" stroke-width="0.16" stroke-linejoin="round">d2</text>
<path d="M119.50,600.70 H232.50" stroke="#000" stroke-width="1.5" fill="none"/>
<text x="176.00" y="616.50" font-size="12.50" text-anchor="middle" textLength="56.5" lengthAdjust="spacingAndGlyphs" fill="#151515" stroke="#151515" stroke-width="0.16" stroke-linejoin="round">Ticagrelor</text>
<text transform="translate(41.30,481.80) rotate(-90)" x="-44.00" y="0" font-size="16.00" word-spacing="2.5" textLength="88.00" lengthAdjust="spacingAndGlyphs" stroke="#151515" stroke-width="0.85" stroke-linejoin="round" fill="#151515">Lagtime [minutes]</text>
<path d="M321.00,387.30 V576.75" stroke="#000" stroke-width="2" fill="none"/>
<path d="M315.60,575.90 H502.50" stroke="#000" stroke-width="1.7" fill="none"/>
<g stroke="#000" stroke-width="1.45" fill="none">
<path d="M315.60,514.80 H321.00"/>
<path d="M315.60,453.70 H321.00"/>
<path d="M315.60,392.60 H321.00"/>
</g>
<text x="310.80" y="580.30" font-size="12.60" text-anchor="end" textLength="7.8" lengthAdjust="spacingAndGlyphs" fill="#151515" stroke="#151515" stroke-width="0.16" stroke-linejoin="round">0</text>
<text x="310.80" y="519.20" font-size="12.60" text-anchor="end" textLength="7.8" lengthAdjust="spacingAndGlyphs" fill="#151515" stroke="#151515" stroke-width="0.16" stroke-linejoin="round">5</text>
<text x="310.80" y="458.10" font-size="12.60" text-anchor="end" textLength="15.5" lengthAdjust="spacingAndGlyphs" fill="#151515" stroke="#151515" stroke-width="0.16" stroke-linejoin="round">10</text>
<text x="310.80" y="397.00" font-size="12.60" text-anchor="end" textLength="15.5" lengthAdjust="spacingAndGlyphs" fill="#151515" stroke="#151515" stroke-width="0.16" stroke-linejoin="round">15</text>
<path d="M346.25,493.40 V483.60 M342.55,484.00 H349.95" stroke="#000" stroke-width="1.7" fill="none"/>
<rect x="333.75" y="492.40" width="25.00" height="82.70" fill="#a60627"/>
<path d="M384.38,504.30 V497.40 M380.68,497.80 H388.07" stroke="#000" stroke-width="1.7" fill="none"/>
<rect x="372.00" y="503.30" width="24.75" height="71.80" fill="#2a4b80"/>
<path d="M409.25,444.70 V431.20 M405.55,431.60 H412.95" stroke="#000" stroke-width="1.7" fill="none"/>
<rect x="396.75" y="443.70" width="25.00" height="131.40" fill="#69aa45"/>
<path d="M448.38,510.20 V502.00 M444.68,502.40 H452.07" stroke="#000" stroke-width="1.7" fill="none"/>
<rect x="436.25" y="509.20" width="24.25" height="65.90" fill="#2a4b80"/>
<path d="M473.00,444.00 V422.00 M469.30,422.40 H476.70" stroke="#000" stroke-width="1.7" fill="none"/>
<rect x="460.50" y="443.00" width="25.00" height="132.10" fill="#69aa45"/>
<text x="409.50" y="412.50" font-size="11.3" text-anchor="middle" textLength="14.26" lengthAdjust="spacing" fill="#111" stroke="#111" stroke-width="0.4">##</text>
<text x="409.50" y="426.80" font-size="11.00" text-anchor="middle" font-weight="bold" textLength="12.9" lengthAdjust="spacingAndGlyphs" fill="#111">***</text>
<text x="473.00" y="403.60" font-size="11.3" text-anchor="middle" textLength="6.28" lengthAdjust="spacing" fill="#111" stroke="#111" stroke-width="0.4">#</text>
<text x="473.00" y="418.10" font-size="11.00" text-anchor="middle" font-weight="bold" textLength="8.6" lengthAdjust="spacingAndGlyphs" fill="#111">**</text>
<text x="346.20" y="592.20" font-size="12.50" text-anchor="middle" textLength="46.6" lengthAdjust="spacingAndGlyphs" fill="#151515" stroke="#151515" stroke-width="0.16" stroke-linejoin="round">baseline</text>
<text x="396.00" y="592.20" font-size="12.50" text-anchor="middle" textLength="13.5" lengthAdjust="spacingAndGlyphs" fill="#151515" stroke="#151515" stroke-width="0.16" stroke-linejoin="round">d1</text>
<text x="460.00" y="592.20" font-size="12.50" text-anchor="middle" textLength="13.5" lengthAdjust="spacingAndGlyphs" fill="#151515" stroke="#151515" stroke-width="0.16" stroke-linejoin="round">d2</text>
<path d="M372.50,600.50 H486.00" stroke="#000" stroke-width="1.5" fill="none"/>
<text x="428.50" y="616.30" font-size="12.50" text-anchor="middle" textLength="56.5" lengthAdjust="spacingAndGlyphs" fill="#151515" stroke="#151515" stroke-width="0.16" stroke-linejoin="round">Ticagrelor</text>
<text transform="translate(286.60,482.10) rotate(-90)" x="-56.50" y="0" font-size="16.00" word-spacing="2.5" textLength="113.00" lengthAdjust="spacingAndGlyphs" stroke="#151515" stroke-width="0.85" stroke-linejoin="round" fill="#151515">Time to peak [minutes]</text>
<path d="M68.00,669.70 V858.85" stroke="#000" stroke-width="2" fill="none"/>
<path d="M62.60,858.00 H248.00" stroke="#000" stroke-width="1.7" fill="none"/>
<g stroke="#000" stroke-width="1.45" fill="none">
<path d="M62.60,797.00 H68.00"/>
<path d="M62.60,736.00 H68.00"/>
<path d="M62.60,675.00 H68.00"/>
</g>
<text x="57.40" y="862.40" font-size="12.60" text-anchor="end" textLength="7.8" lengthAdjust="spacingAndGlyphs" fill="#151515" stroke="#151515" stroke-width="0.16" stroke-linejoin="round">0</text>
<text x="57.40" y="801.40" font-size="12.60" text-anchor="end" textLength="23.2" lengthAdjust="spacingAndGlyphs" fill="#151515" stroke="#151515" stroke-width="0.16" stroke-linejoin="round">100</text>
<text x="57.40" y="740.40" font-size="12.60" text-anchor="end" textLength="23.2" lengthAdjust="spacingAndGlyphs" fill="#151515" stroke="#151515" stroke-width="0.16" stroke-linejoin="round">200</text>
<text x="57.40" y="679.40" font-size="12.60" text-anchor="end" textLength="23.2" lengthAdjust="spacingAndGlyphs" fill="#151515" stroke="#151515" stroke-width="0.16" stroke-linejoin="round">300</text>
<path d="M92.85,734.80 V720.00 M89.15,720.40 H96.55" stroke="#000" stroke-width="1.7" fill="none"/>
<rect x="80.50" y="733.80" width="24.70" height="123.40" fill="#a60627"/>
<path d="M131.30,704.70 V694.30 M127.60,694.70 H135.00" stroke="#000" stroke-width="1.7" fill="none"/>
<rect x="118.90" y="703.70" width="24.80" height="153.50" fill="#2a4b80"/>
<path d="M156.10,790.20 V779.80 M152.40,780.20 H159.80" stroke="#000" stroke-width="1.7" fill="none"/>
<rect x="143.70" y="789.20" width="24.80" height="68.00" fill="#69aa45"/>
<path d="M195.10,712.00 V695.00 M191.40,695.40 H198.80" stroke="#000" stroke-width="1.7" fill="none"/>
<rect x="182.70" y="711.00" width="24.80" height="146.20" fill="#2a4b80"/>
<path d="M220.00,805.10 V792.00 M216.30,792.40 H223.70" stroke="#000" stroke-width="1.7" fill="none"/>
<rect x="207.50" y="804.10" width="25.00" height="53.10" fill="#69aa45"/>
<text x="156.30" y="762.00" font-size="11.3" text-anchor="middle" textLength="14.26" lengthAdjust="spacing" fill="#111" stroke="#111" stroke-width="0.4">##</text>
<text x="156.30" y="776.60" font-size="11.00" text-anchor="middle" font-weight="bold" textLength="12.9" lengthAdjust="spacingAndGlyphs" fill="#111">***</text>
<text x="219.90" y="773.60" font-size="11.3" text-anchor="middle" textLength="22.24" lengthAdjust="spacing" fill="#111" stroke="#111" stroke-width="0.4">###</text>
<text x="219.90" y="787.30" font-size="11.00" text-anchor="middle" font-weight="bold" textLength="12.9" lengthAdjust="spacingAndGlyphs" fill="#111">***</text>
<text x="93.00" y="874.20" font-size="12.50" text-anchor="middle" textLength="46.6" lengthAdjust="spacingAndGlyphs" fill="#151515" stroke="#151515" stroke-width="0.16" stroke-linejoin="round">baseline</text>
<text x="142.90" y="874.20" font-size="12.50" text-anchor="middle" textLength="13.5" lengthAdjust="spacingAndGlyphs" fill="#151515" stroke="#151515" stroke-width="0.16" stroke-linejoin="round">d1</text>
<text x="207.50" y="874.20" font-size="12.50" text-anchor="middle" textLength="13.5" lengthAdjust="spacingAndGlyphs" fill="#151515" stroke="#151515" stroke-width="0.16" stroke-linejoin="round">d2</text>
<path d="M119.50,883.10 H232.50" stroke="#000" stroke-width="1.5" fill="none"/>
<text x="176.00" y="898.60" font-size="12.50" text-anchor="middle" textLength="56.5" lengthAdjust="spacingAndGlyphs" fill="#151515" stroke="#151515" stroke-width="0.16" stroke-linejoin="round">Ticagrelor</text>
<text transform="translate(25.60,764.30) rotate(-90)" x="-35.85" y="0" font-size="16.00" word-spacing="2.5" textLength="71.70" lengthAdjust="spacingAndGlyphs" stroke="#151515" stroke-width="0.85" stroke-linejoin="round" fill="#151515">Thrombin [nM]</text>
<path d="M329.00,670.00 V858.95" stroke="#000" stroke-width="2" fill="none"/>
<path d="M323.60,858.10 H508.50" stroke="#000" stroke-width="1.7" fill="none"/>
<g stroke="#000" stroke-width="1.45" fill="none">
<path d="M323.60,797.17 H329.00"/>
<path d="M323.60,736.23 H329.00"/>
<path d="M323.60,675.30 H329.00"/>
</g>
<text x="318.30" y="862.50" font-size="12.60" text-anchor="end" textLength="7.8" lengthAdjust="spacingAndGlyphs" fill="#151515" stroke="#151515" stroke-width="0.16" stroke-linejoin="round">0</text>
<text x="318.30" y="801.57" font-size="12.60" text-anchor="end" textLength="15.5" lengthAdjust="spacingAndGlyphs" fill="#151515" stroke="#151515" stroke-width="0.16" stroke-linejoin="round">50</text>
<text x="318.30" y="740.63" font-size="12.60" text-anchor="end" textLength="23.2" lengthAdjust="spacingAndGlyphs" fill="#151515" stroke="#151515" stroke-width="0.16" stroke-linejoin="round">100</text>
<text x="318.30" y="679.70" font-size="12.60" text-anchor="end" textLength="23.2" lengthAdjust="spacingAndGlyphs" fill="#151515" stroke="#151515" stroke-width="0.16" stroke-linejoin="round">150</text>
<path d="M354.00,764.00 V746.70 M350.30,747.10 H357.70" stroke="#000" stroke-width="1.7" fill="none"/>
<rect x="341.75" y="763.00" width="24.50" height="94.30" fill="#a60627"/>
<path d="M392.50,736.00 V719.30 M388.80,719.70 H396.20" stroke="#000" stroke-width="1.7" fill="none"/>
<rect x="380.00" y="735.00" width="25.00" height="122.30" fill="#2a4b80"/>
<path d="M417.40,824.10 V815.80 M413.70,816.20 H421.10" stroke="#000" stroke-width="1.7" fill="none"/>
<rect x="405.00" y="823.10" width="24.80" height="34.20" fill="#69aa45"/>
<path d="M456.35,853.00 V850.40 M452.65,850.80 H460.05" stroke="#000" stroke-width="1.7" fill="none"/>
<rect x="443.80" y="852.00" width="25.10" height="5.30" fill="#2a4b80"/>
<path d="M481.25,846.30 V842.50 M477.55,842.90 H484.95" stroke="#000" stroke-width="1.7" fill="none"/>
<rect x="468.90" y="845.30" width="24.70" height="12.00" fill="#69aa45"/>
<text x="417.20" y="797.40" font-size="11.3" text-anchor="middle" textLength="14.26" lengthAdjust="spacing" fill="#111" stroke="#111" stroke-width="0.4">##</text>
<text x="417.20" y="811.10" font-size="11.00" text-anchor="middle" font-weight="bold" textLength="12.9" lengthAdjust="spacingAndGlyphs" fill="#111">***</text>
<text x="481.00" y="824.40" font-size="11.3" text-anchor="middle" textLength="22.24" lengthAdjust="spacing" fill="#111" stroke="#111" stroke-width="0.4">###</text>
<text x="354.00" y="874.20" font-size="12.50" text-anchor="middle" textLength="46.6" lengthAdjust="spacingAndGlyphs" fill="#151515" stroke="#151515" stroke-width="0.16" stroke-linejoin="round">baseline</text>
<text x="404.20" y="874.20" font-size="12.50" text-anchor="middle" textLength="13.5" lengthAdjust="spacingAndGlyphs" fill="#151515" stroke="#151515" stroke-width="0.16" stroke-linejoin="round">d1</text>
<text x="468.30" y="874.20" font-size="12.50" text-anchor="middle" textLength="13.5" lengthAdjust="spacingAndGlyphs" fill="#151515" stroke="#151515" stroke-width="0.16" stroke-linejoin="round">d2</text>
<path d="M380.00,883.10 H493.60" stroke="#000" stroke-width="1.5" fill="none"/>
<text x="436.50" y="898.60" font-size="12.50" text-anchor="middle" textLength="56.5" lengthAdjust="spacingAndGlyphs" fill="#151515" stroke="#151515" stroke-width="0.16" stroke-linejoin="round">Ticagrelor</text>
<text transform="translate(286.30,764.40) rotate(-90)" x="-53.75" y="0" font-size="16.00" word-spacing="2.5" textLength="107.50" lengthAdjust="spacingAndGlyphs" stroke="#151515" stroke-width="0.85" stroke-linejoin="round" fill="#151515">Velocity [nM/minutes]</text>
<rect x="371.5" y="631.4" width="13.6" height="11.2" fill="#2a4b80"/>
<rect x="371.5" y="650.4" width="13.6" height="11.4" fill="#69aa45"/>
<text x="390.90" y="641.70" font-size="12.50" textLength="36.9" lengthAdjust="spacingAndGlyphs" fill="#151515" stroke="#151515" stroke-width="0.16" stroke-linejoin="round">DMSO</text>
<text x="390.90" y="659.60" font-size="12.50" textLength="109.0" lengthAdjust="spacingAndGlyphs" fill="#151515" stroke="#151515" stroke-width="0.16" stroke-linejoin="round">Rivaroxaban (<tspan font-style="italic">in vitro</tspan>)</text>
</g>
</g>
</svg>
</body>
</html>
